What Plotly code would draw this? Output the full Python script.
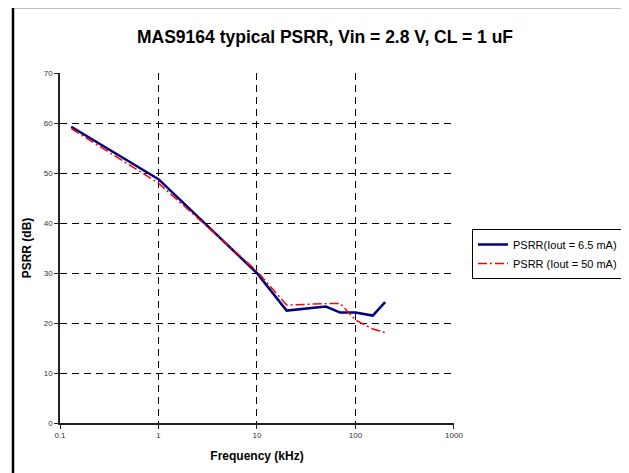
import plotly.graph_objects as go

freq_a = [0.13, 1, 10, 20, 50, 70, 100, 150, 200]
psrr_a = [59.3, 48.8, 30.0, 22.5, 23.3, 22.1, 22.1, 21.5, 24.2]
freq_b = [0.13, 1, 10, 20, 50, 70, 100, 150, 200]
psrr_b = [58.9, 48.0, 30.4, 23.6, 23.9, 23.9, 20.6, 18.8, 18.1]
x_ticks = [0.1, 1, 10, 100, 1000]
x_tick_text = ["0.1", "1", "10", "100", "1000"]
y_ticks = [0, 10, 20, 30, 40, 50, 60, 70]

OFF = 8  # page body margin
W, H = 629 - OFF, 473 - OFF
L, R, T, B = 60 - OFF, 454 - OFF, 73 - OFF, 423 - OFF
pw, ph = R - L, B - T

fig = go.Figure()
fig.add_trace(go.Scatter(x=freq_a, y=psrr_a, mode="lines", name="PSRR(Iout = 6.5 mA)",
                         line=dict(color="#000080", width=2.5)))
fig.add_trace(go.Scatter(x=freq_b, y=psrr_b, mode="lines", name="PSRR (Iout = 50 mA)",
                         line=dict(color="#FF0000", width=1.5, dash="9px,3px,2px,3px")))

font = "Liberation Sans, Arial, sans-serif"
fig.update_layout(
    width=W, height=H,
    margin=dict(l=L, r=W - R, t=T, b=H - B, autoexpand=False),
    paper_bgcolor="white", plot_bgcolor="white",
    font=dict(family=font, color="black"),
    title=dict(text="<b>MAS9164 typical PSRR, Vin = 2.8 V, CL = 1 uF</b>",
               x=(325 - OFF) / W, xanchor="center", y=1 - (37 - OFF) / H, yanchor="middle",
               font=dict(size=17.5, family=font)),
    xaxis=dict(type="log", range=[-1, 3.0005], tickvals=x_ticks, ticktext=x_tick_text,
               showgrid=True, gridcolor="black", griddash="7px,5px", gridwidth=1,
               showline=True, linecolor="#222", linewidth=1.5,
               ticks="outside", ticklen=4, tickcolor="#222",
               tickfont=dict(size=8, color="#333"), zeroline=False,
               title=dict(text="<b>Frequency (kHz)</b>", font=dict(size=12), standoff=12)),
    yaxis=dict(range=[0, 70.05], tickvals=y_ticks,
               showgrid=True, gridcolor="black", griddash="7px,5px", gridwidth=1,
               showline=True, linecolor="#222", linewidth=1.5,
               ticks="outside", ticklen=4, tickcolor="#222",
               tickfont=dict(size=8, color="#333"), zeroline=False,
               title=dict(text="<b>PSRR (dB)</b>", font=dict(size=12), standoff=10)),
    legend=dict(x=(472 - 60) / pw, y=(423 - 229) / ph, xanchor="left", yanchor="top",
                bordercolor="black", borderwidth=1, bgcolor="white",
                font=dict(size=11, family=font), tracegroupgap=0,
                itemwidth=30),
    showlegend=True,
)

fig.add_shape(type="rect", xref="paper", yref="paper",
              x0=(13 - 60) / pw, x1=(625 - 60) / pw,
              y0=(423 - 490) / ph, y1=(423 - 7) / ph,
              line=dict(color="black", width=2.5), fillcolor="rgba(0,0,0,0)", layer="below")

fig.write_html("out.html")
